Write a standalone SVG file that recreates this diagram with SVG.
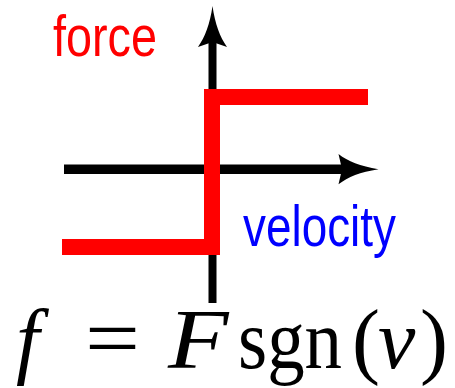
<svg xmlns="http://www.w3.org/2000/svg" width="455" height="388" viewBox="0 0 455 388">
<style>
.ax{stroke:#000;fill:none}
.lbl{font-family:"Liberation Sans",Arial,sans-serif;font-size:57px}
.m{font-family:"Liberation Serif","Times New Roman",serif;font-size:84px;fill:#000}
.mi{font-style:italic}
</style>
<rect width="455" height="388" fill="#fff"/>
<g id="axes">
<line class="ax" x1="212.5" y1="303" x2="212.5" y2="40" stroke-width="8"/>
<path d="M212.5,6 C215,24 220,37 227,47 L212.5,42 L198,47 C205,37 210,24 212.5,6 Z" fill="#000"/>
<line class="ax" x1="64" y1="169.2" x2="345" y2="169.2" stroke-width="9.5"/>
<path d="M378.5,169.2 C360,172 348,177 338.5,184.3 L342,169.2 L338.5,154.1 C348,161.4 360,166.4 378.5,169.2 Z" fill="#000"/>
</g>
<g id="step">
<path d="M62,247 H212 V97 H368" fill="none" stroke="#ff0000" stroke-width="16" stroke-linejoin="miter"/>
</g>
<g id="force-label">
<text class="lbl" x="53" y="56" fill="#ff0000" textLength="104" lengthAdjust="spacingAndGlyphs">force</text>
</g>
<g id="velocity-label">
<text class="lbl" x="243" y="246" fill="#0000ff" textLength="153" lengthAdjust="spacingAndGlyphs">velocity</text>
</g>
<g id="equation">
<text class="m mi" x="16" y="368">f</text>
<text class="m" x="85" y="367" font-size="90" textLength="55" lengthAdjust="spacingAndGlyphs">=</text>
<text class="m mi" transform="translate(168,368) scale(1.18,1)" x="0" y="0">F</text>
<text class="m" x="238" y="368" textLength="104" lengthAdjust="spacingAndGlyphs">sgn</text>
<text class="m" x="352" y="368">(</text>
<text class="m mi" x="378" y="368">v</text>
<text class="m" x="420" y="368">)</text>
</g>
</svg>
